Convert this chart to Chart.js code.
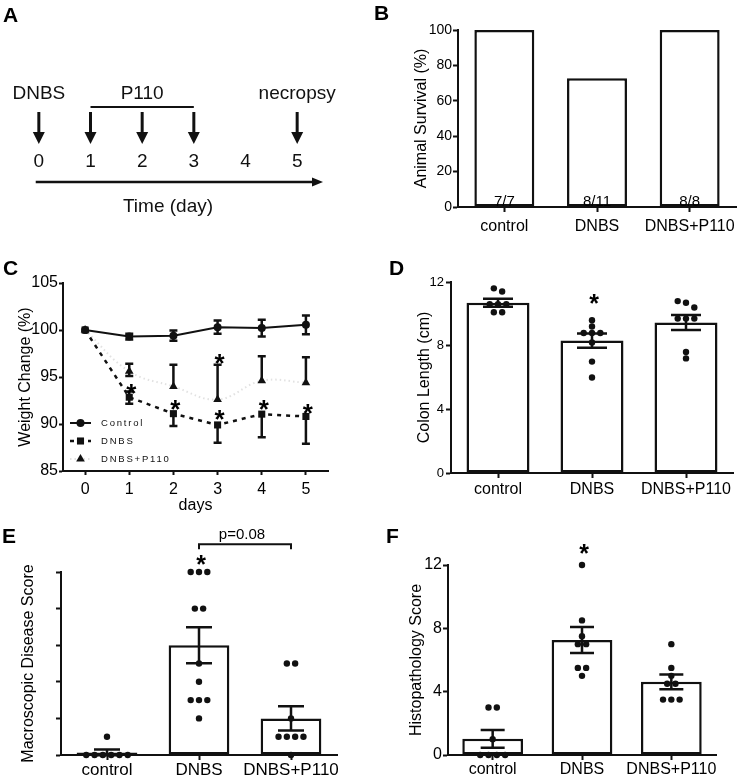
<!DOCTYPE html>
<html>
<head>
<meta charset="utf-8">
<script src="https://cdn.jsdelivr.net/npm/chart.js@4.4.1/dist/chart.umd.min.js"></script>
<style>
  html, body { margin: 0; padding: 0; background: #fff; }
  #wrap { position: relative; width: 742px; height: 778px; }
  #wrap canvas { position: absolute; left: 0; top: 0; }
</style>
</head>
<body>
<div id="wrap">
  <canvas id="panelA" width="742" height="778"></canvas>
  <canvas id="panelB" width="742" height="778"></canvas>
  <canvas id="panelC" width="742" height="778"></canvas>
  <canvas id="panelD" width="742" height="778"></canvas>
  <canvas id="panelE" width="742" height="778"></canvas>
  <canvas id="panelF" width="742" height="778"></canvas>
</div>
<script>
// ---- data ----
// A: protocol timeline
const timeDays = [0, 1, 2, 3, 4, 5];
const dnbsDay = 0;
const p110Days = [1, 2, 3];
const necropsyDay = 5;

// shared groups
const groups = ['control', 'DNBS', 'DNBS+P110'];

// B: survival
const survivalPct = [100, 72.7, 100];
const survivalCounts = ['7/7', '8/11', '8/8'];

// C: weight change
const weightSeries = ['Control', 'DNBS', 'DNBS+P110'];
const weightDays = [0, 1, 2, 3, 4, 5];
const ctrlWeight = [100, 99.3, 99.4, 100.3, 100.2, 100.55];
const ctrlErr = [0, 0.3, 0.55, 0.7, 0.9, 1.0];
const dnbsWeight = [100, 92.85, 91.1, 89.9, 91.05, 90.8];
const dnbsErrUp = [0, 0.6, 0, 0, 0, 0];
const dnbsErrDown = [0, 0.7, 1.3, 1.9, 2.45, 2.9];
const p110Weight = [100, 95.6, 94.0, 92.6, 94.6, 94.4];
const p110ErrUp = [0, 0.8, 2.3, 3.7, 2.6, 2.7];
const p110ErrDown = [0, 0.5, 0, 0, 0, 0];
const weightStarDays = [1, 2, 3, 3, 4, 5];
const weightStarLevels = [93.9, 92.2, 97.1, 91.2, 92.2, 91.8];

// D: colon length
const colonCtrl = [11.6, 11.4, 10.6, 10.6, 10.6, 10.1, 10.1];
const colonDnbs = [9.6, 9.2, 8.8, 8.8, 8.8, 8.2, 7.0, 6.0];
const colonP110 = [10.8, 10.7, 10.4, 9.7, 9.7, 9.7, 7.6, 7.2];
const colonMean = [10.7, 8.32, 9.45];
const colonSem = [0.25, 0.45, 0.47];

// E: macroscopic score
const macroCtrl = [0.5, 0, 0, 0, 0, 0, 0];
const macroDnbs = [5, 5, 5, 4, 4, 2.5, 2, 1.5, 1.5, 1.5, 1];
const macroP110 = [2.5, 2.5, 1, 0.5, 0.5, 0.5, 0.5, 0];
const macroMean = [0.07, 3.0, 1.0];
const macroSem = [0.08, 0.49, 0.33];
const macroPvalue = 'p=0.08';

// F: histopathology score
const histCtrl = [3, 3, 1, 0, 0, 0, 0];
const histDnbs = [12, 8.5, 7.5, 7, 7, 5.5, 5.5, 5];
const histP110 = [7, 5.5, 5, 4.5, 4.5, 3.5, 3.5, 3.5];
const histMean = [1.02, 7.27, 4.62];
const histSem = [0.56, 0.82, 0.46];

// ---- setup ----
const W = 742, H = 778;
const FONT = '"Liberation Sans", Arial, Helvetica, sans-serif';
Chart.defaults.font.family = FONT;
Chart.defaults.color = '#000';
Chart.defaults.animation = false;
Chart.defaults.responsive = false;
Chart.defaults.events = [];
Chart.defaults.plugins.legend.display = false;
Chart.defaults.plugins.tooltip.enabled = false;

const INK = '#111';

function pad(area, yw, xh) {
  return { left: area.l - yw, top: area.t, right: W - area.r, bottom: H - area.b - xh };
}

function letter(ctx, txt, x, y) {
  ctx.save();
  ctx.font = 'bold 21px ' + FONT;
  ctx.fillStyle = '#000';
  ctx.textBaseline = 'alphabetic';
  ctx.fillText(txt, x, y);
  ctx.restore();
}

function star(ctx, x, y, size) {
  ctx.save();
  ctx.font = 'bold ' + size + 'px ' + FONT;
  ctx.fillStyle = '#000';
  ctx.textAlign = 'center';
  ctx.textBaseline = 'alphabetic';
  ctx.fillText('*', x, y + size * 0.57);
  ctx.restore();
}

function errBar(ctx, x, yMid, yTop, yBot, half, lw) {
  ctx.save();
  ctx.strokeStyle = INK;
  ctx.lineWidth = lw;
  ctx.beginPath();
  ctx.moveTo(x, yTop); ctx.lineTo(x, yBot);
  if (yTop !== yMid) { ctx.moveTo(x - half, yTop); ctx.lineTo(x + half, yTop); }
  if (yBot !== yMid) { ctx.moveTo(x - half, yBot); ctx.lineTo(x + half, yBot); }
  ctx.stroke();
  ctx.restore();
}

// spread equal (overlapping) values sideways like a column scatter
function columnDots(values, idx, pxX, pxY) {
  const v = values.slice().sort((a, b) => b - a);
  const out = [];
  let i = 0;
  while (i < v.length) {
    let j = i + 1;
    while (j < v.length && (v[j - 1] - v[j]) * pxY < 6) j++;
    const n = j - i;
    for (let k = 0; k < n; k++) out.push({ x: idx + (k - (n - 1) / 2) * 8.3 / pxX, y: v[i + k] });
    i = j;
  }
  return out;
}

function catAxis(o) {
  return {
    type: 'linear', min: -0.5, max: 2.5, offset: false,
    afterBuildTicks: s => { s.ticks = groups.map((g, i) => ({ value: i })); },
    afterFit: s => { s.height = o.xh; },
    ticks: { callback: v => groups[v], font: { size: o.catSize }, padding: o.catPad, color: '#000', maxRotation: 0, autoSkip: false },
    grid: { display: true, drawOnChartArea: false, drawTicks: true, tickLength: 5, tickWidth: 2, tickColor: INK, offset: false },
    border: { display: true, color: INK, width: 2 }
  };
}

function valAxis(o) {
  return {
    type: 'linear', min: o.min, max: o.max,
    afterFit: s => { s.width = o.yw; },
    ticks: { stepSize: o.step, font: { size: o.tickSize }, padding: o.tickPad, color: '#000', display: o.labels !== false },
    grid: { display: true, drawOnChartArea: false, drawTicks: true, tickLength: o.tickLen, tickWidth: 2, tickColor: INK },
    border: { display: true, color: INK, width: 2 },
    title: { display: true, text: o.title, font: { size: 16 }, color: '#000', padding: { top: 4, bottom: 4 } }
  };
}

// ---- A: timeline ----
new Chart(document.getElementById('panelA'), {
  type: 'scatter',
  data: { datasets: [{ data: [] }] },
  options: {
    layout: { padding: pad({ l: 13, r: 323, t: 0, b: 230 }, 0, 0) },
    scales: {
      x: { type: 'linear', min: -0.5, max: 5.5, display: false },
      y: { type: 'linear', min: 0, max: 1, display: false }
    }
  },
  plugins: [{
    id: 'timeline',
    afterDraw(chart) {
      const ctx = chart.ctx, x = chart.scales.x;
      letter(ctx, 'A', 3, 22);
      ctx.save();
      ctx.fillStyle = INK; ctx.strokeStyle = INK;
      // time axis with arrow head
      const axY = 182;
      ctx.lineWidth = 2.5;
      ctx.beginPath();
      ctx.moveTo(x.getPixelForValue(-0.06), axY);
      ctx.lineTo(x.right - 8, axY);
      ctx.stroke();
      ctx.beginPath();
      ctx.moveTo(x.right, axY); ctx.lineTo(x.right - 11, axY - 4.5); ctx.lineTo(x.right - 11, axY + 4.5);
      ctx.closePath(); ctx.fill();
      // day numbers
      ctx.font = '19px ' + FONT;
      ctx.textAlign = 'center';
      ctx.textBaseline = 'alphabetic';
      timeDays.forEach(d => ctx.fillText(String(d), x.getPixelForValue(d), 167));
      // dosing arrows
      const arrow = px => {
        ctx.lineWidth = 3;
        ctx.beginPath(); ctx.moveTo(px, 112); ctx.lineTo(px, 135); ctx.stroke();
        ctx.beginPath(); ctx.moveTo(px - 6, 132); ctx.lineTo(px + 6, 132); ctx.lineTo(px, 144); ctx.closePath(); ctx.fill();
      };
      [dnbsDay, ...p110Days, necropsyDay].forEach(d => arrow(x.getPixelForValue(d)));
      ctx.font = '19px ' + FONT;
      ctx.fillText('DNBS', x.getPixelForValue(dnbsDay), 99);
      const p0 = x.getPixelForValue(p110Days[0]), p1 = x.getPixelForValue(p110Days[p110Days.length - 1]);
      ctx.fillText('P110', (p0 + p1) / 2, 99);
      ctx.lineWidth = 2;
      ctx.beginPath(); ctx.moveTo(p0, 107); ctx.lineTo(p1, 107); ctx.stroke();
      ctx.fillText('necropsy', x.getPixelForValue(necropsyDay), 99);
      ctx.fillText('Time (day)', (x.left + x.right) / 2, 212);
      ctx.restore();
    }
  }]
});

// ---- B: survival ----
new Chart(document.getElementById('panelB'), {
  type: 'bar',
  data: {
    datasets: [{
      data: survivalPct.map((v, i) => ({ x: i, y: v })),
      backgroundColor: '#fff', borderColor: INK, borderWidth: 2.5, borderSkipped: false,
      barPercentage: 0.647, categoryPercentage: 1
    }]
  },
  options: {
    layout: { padding: pad({ l: 458, r: 736, t: 30, b: 207 }, 50, 30) },
    scales: {
      x: catAxis({ xh: 30, catSize: 16, catPad: 5 }),
      y: valAxis({ min: 0, max: 100, step: 20, yw: 50, tickSize: 14, tickPad: 1, tickLen: 5, title: 'Animal Survival (%)' })
    }
  },
  plugins: [{
    id: 'counts',
    afterDraw(chart) {
      const ctx = chart.ctx, x = chart.scales.x, y = chart.scales.y;
      letter(ctx, 'B', 374, 20);
      ctx.save();
      ctx.font = '15px ' + FONT;
      ctx.fillStyle = '#000';
      ctx.textAlign = 'center';
      ctx.textBaseline = 'alphabetic';
      survivalCounts.forEach((t, i) => ctx.fillText(t, x.getPixelForValue(i), y.getPixelForValue(0) - 1));
      ctx.restore();
    }
  }]
});

// ---- C: weight change ----
const pts = (xs, ys) => xs.map((v, i) => ({ x: v, y: ys[i] }));
const weightStyles = {
  'Control': { dash: [], color: INK, width: 2, point: 'circle', r: 4 },
  'DNBS': { dash: [4, 5], color: INK, width: 2.5, point: 'rect', r: 5 },
  'DNBS+P110': { dash: [1.5, 3], color: '#e2e2e2', width: 2, point: 'triangle', r: 5 }
};
function marker(ctx, style, x, y, r) {
  ctx.beginPath();
  if (style === 'circle') ctx.arc(x, y, r, 0, Math.PI * 2);
  else if (style === 'rect') { const s = r * Math.SQRT1_2; ctx.rect(x - s, y - s, 2 * s, 2 * s); }
  else { ctx.moveTo(x, y - r); ctx.lineTo(x + r * 0.866, y + r * 0.5); ctx.lineTo(x - r * 0.866, y + r * 0.5); ctx.closePath(); }
  ctx.fill();
}
function lineSet(name, ys, tension) {
  const s = weightStyles[name];
  return {
    label: name, data: pts(weightDays, ys), borderColor: s.color, borderWidth: s.width, borderDash: s.dash,
    tension: tension, pointStyle: s.point, pointRadius: s.r, pointBackgroundColor: INK, pointBorderWidth: 0, clip: false
  };
}
new Chart(document.getElementById('panelC'), {
  type: 'line',
  data: {
    datasets: [
      lineSet('DNBS', dnbsWeight, 0),
      lineSet('Control', ctrlWeight, 0),
      lineSet('DNBS+P110', p110Weight, 0.4)
    ]
  },
  options: {
    layout: { padding: pad({ l: 63, r: 328, t: 283, b: 471 }, 51, 48) },
    scales: {
      x: {
        type: 'linear', min: -0.5, max: 5.5,
        afterBuildTicks: s => { s.ticks = weightDays.map(d => ({ value: d })); },
        afterFit: s => { s.height = 48; },
        ticks: { font: { size: 16 }, padding: 5, color: '#000' },
        grid: { display: true, drawOnChartArea: false, drawTicks: true, tickLength: 4, tickWidth: 2, tickColor: INK },
        border: { display: true, color: INK, width: 2 },
        title: { display: true, text: 'days', font: { size: 16 }, color: '#000', padding: { top: 0, bottom: 4 } }
      },
      y: valAxis({ min: 85, max: 105, step: 5, yw: 51, tickSize: 16, tickPad: 1, tickLen: 4, title: 'Weight Change (%)' })
    }
  },
  plugins: [{
    id: 'weightExtras',
    beforeDatasetsDraw(chart) {
      const ctx = chart.ctx, x = chart.scales.x, y = chart.scales.y;
      const bars = [[ctrlWeight, ctrlErr, ctrlErr], [dnbsWeight, dnbsErrUp, dnbsErrDown], [p110Weight, p110ErrUp, p110ErrDown]];
      bars.forEach(([m, up, dn]) => {
        weightDays.forEach((d, i) => {
          if (!up[i] && !dn[i]) return;
          errBar(ctx, x.getPixelForValue(d), y.getPixelForValue(m[i]),
            y.getPixelForValue(m[i] + up[i]), y.getPixelForValue(m[i] - dn[i]), 4, 2.5);
        });
      });
    },
    afterDraw(chart) {
      const ctx = chart.ctx, x = chart.scales.x, y = chart.scales.y;
      letter(ctx, 'C', 3, 275);
      weightStarDays.forEach((d, i) => star(ctx, x.getPixelForValue(d) + 2, y.getPixelForValue(weightStarLevels[i]), 26));
      // legend inside the plot
      ctx.save();
      weightSeries.forEach((name, i) => {
        const s = weightStyles[name];
        const ly = 423 + i * 18;
        ctx.strokeStyle = s.color; ctx.lineWidth = s.width; ctx.setLineDash(s.dash);
        ctx.beginPath(); ctx.moveTo(70, ly); ctx.lineTo(91, ly); ctx.stroke();
        ctx.setLineDash([]);
        ctx.fillStyle = INK;
        marker(ctx, s.point, 80.5, ly, s.r);
        ctx.font = '9.5px ' + FONT;
        ctx.letterSpacing = '1.8px';
        ctx.textBaseline = 'middle';
        ctx.fillText(name, 101, ly);
      });
      ctx.restore();
    }
  }]
});

// ---- bar + dot panels (D, E, F) ----
function dotPanel(id, o) {
  const pxX = (o.area.r - o.area.l) / 3;
  const pxY = (o.area.b - o.area.t) / (o.max - o.min);
  const dots = o.values.flatMap((vals, i) => columnDots(vals, i, pxX, pxY));
  return new Chart(document.getElementById(id), {
    type: 'bar',
    data: {
      datasets: [
        {
          type: 'scatter', data: dots, pointRadius: 3.2, pointBackgroundColor: INK, pointBorderWidth: 0,
          showLine: false, clip: false, order: 1
        },
        {
          type: 'bar', data: o.mean.map((v, i) => ({ x: i, y: v })), backgroundColor: '#fff', borderColor: INK,
          borderWidth: 2.5, borderSkipped: false, barPercentage: o.barPct, categoryPercentage: 1, order: 2
        }
      ]
    },
    options: {
      layout: { padding: pad(o.area, o.yw, o.xh) },
      scales: {
        x: catAxis({ xh: o.xh, catSize: o.catSize, catPad: o.catPad }),
        y: valAxis({ min: o.min, max: o.max, step: o.step, yw: o.yw, tickSize: o.tickSize, tickPad: o.tickPad,
          tickLen: 5, title: o.title, labels: o.labels })
      }
    },
    plugins: [{
      id: 'semBars',
      afterDatasetsDraw(chart) {
        const ctx = chart.ctx, x = chart.scales.x, y = chart.scales.y;
        o.mean.forEach((m, i) => {
          errBar(ctx, x.getPixelForValue(i), y.getPixelForValue(m),
            y.getPixelForValue(m + o.sem[i]), y.getPixelForValue(m - o.sem[i]), o.cap, 2.5);
        });
      },
      afterDraw(chart) {
        const ctx = chart.ctx, x = chart.scales.x, y = chart.scales.y;
        letter(ctx, o.letter[0], o.letter[1], o.letter[2]);
        star(ctx, x.getPixelForValue(1) + 2, y.getPixelForValue(o.starLevel), 25);
        if (o.extra) o.extra(ctx, x, y);
      }
    }]
  });
}

dotPanel('panelD', {
  area: { l: 451, r: 733, t: 282, b: 473 }, yw: 40, xh: 30,
  min: 0, max: 12, step: 4, tickSize: 13, tickPad: 2, labels: true,
  catSize: 16, catPad: 2, barPct: 0.67, cap: 15,
  title: 'Colon Length (cm)', values: [colonCtrl, colonDnbs, colonP110],
  mean: colonMean, sem: colonSem, starLevel: 11.0, letter: ['D', 389, 275]
});

dotPanel('panelE', {
  area: { l: 61, r: 337, t: 572, b: 755 }, yw: 46, xh: 22,
  min: 0, max: 5, step: 1, tickSize: 14, tickPad: 1, labels: false,
  catSize: 17, catPad: 0, barPct: 0.66, cap: 13,
  title: 'Macroscopic Disease Score', values: [macroCtrl, macroDnbs, macroP110],
  mean: macroMean, sem: macroSem, starLevel: 5.35, letter: ['E', 2, 543],
  extra(ctx, x, y) {
    const a = x.getPixelForValue(1), b = x.getPixelForValue(2);
    const top = y.getPixelForValue(5.76), foot = y.getPixelForValue(5.62);
    ctx.save();
    ctx.strokeStyle = INK; ctx.lineWidth = 2;
    ctx.beginPath();
    ctx.moveTo(a, foot); ctx.lineTo(a, top); ctx.lineTo(b, top); ctx.lineTo(b, foot);
    ctx.stroke();
    ctx.font = '15px ' + FONT; ctx.fillStyle = '#000';
    ctx.textAlign = 'center'; ctx.textBaseline = 'alphabetic';
    ctx.fillText(macroPvalue, (a + b) / 2 - 3, top - 5);
    ctx.restore();
  }
});

dotPanel('panelF', {
  area: { l: 448, r: 716, t: 565, b: 755 }, yw: 45, xh: 22,
  min: 0, max: 12, step: 4, tickSize: 16, tickPad: 1, labels: true,
  catSize: 16, catPad: 0, barPct: 0.68, cap: 12,
  title: 'Histopathology Score', values: [histCtrl, histDnbs, histP110],
  mean: histMean, sem: histSem, starLevel: 13.1, letter: ['F', 386, 543]
});
</script>
</body>
</html>
